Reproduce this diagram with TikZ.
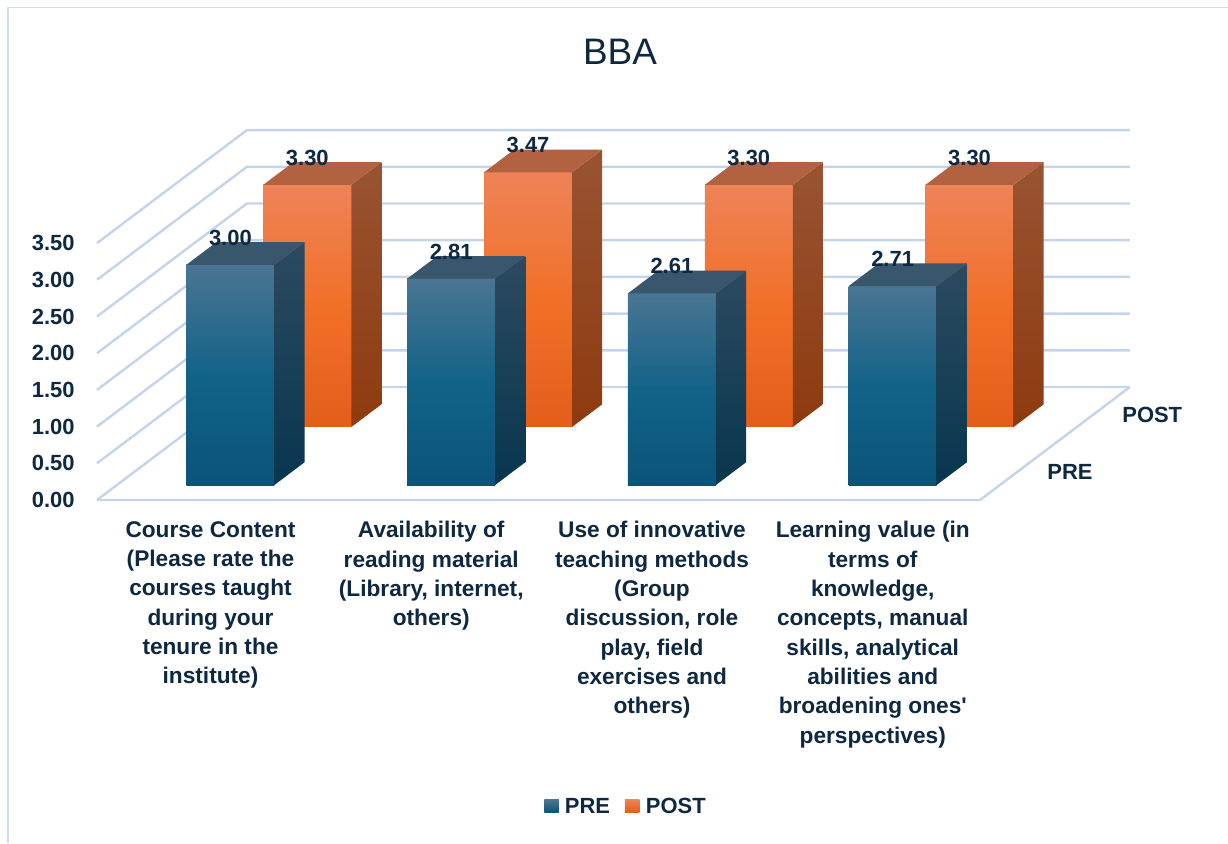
\documentclass[tikz,border=0pt]{standalone}
\usepackage{fontspec}
\setmainfont{Liberation Sans}
\usetikzlibrary{positioning}
\definecolor{textnavy}{HTML}{0E2841}
\definecolor{gridblue}{RGB}{196,213,235}
\definecolor{frameblue}{RGB}{206,222,240}
\definecolor{pretop}{RGB}{74,117,146}
\definecolor{premid}{RGB}{18,99,136}
\definecolor{prebot}{RGB}{10,84,120}
\definecolor{presidetop}{RGB}{44,74,96}
\definecolor{presidebot}{RGB}{7,54,78}
\definecolor{precap}{RGB}{56,86,108}
\definecolor{posttop}{RGB}{238,131,88}
\definecolor{postmid}{RGB}{241,112,40}
\definecolor{postbot}{RGB}{226,94,25}
\definecolor{postsidetop}{RGB}{152,84,50}
\definecolor{postsidebot}{RGB}{142,58,15}
\definecolor{postcap}{RGB}{178,98,64}

\tikzset{
  gridline/.style={gridblue,line width=1.4pt},
  vallabel/.style={font=\bfseries\fontsize{12.5}{15}\selectfont,text=textnavy,inner sep=0pt},
  catlabel/.style={font=\bfseries\fontsize{12.9}{16.7}\selectfont,text=textnavy,align=center,anchor=north,inner sep=0pt},
}

% centre, value, front depth, series, label name
\newcommand{\bbabar}[5]{%
  \pgfmathsetmacro{\bh}{#2*73.4}
  \pgfmathsetmacro{\bl}{#1-44}
  \pgfmathsetmacro{\br}{#1+44}
  \pgfmathsetmacro{\bz}{#3+22.7}
  \shade[top color=#4top,bottom color=#4bot,middle color=#4mid] (\bl,0,#3) rectangle (\br,\bh,#3);
  \shade[top color=#4sidetop,bottom color=#4sidebot] (\br,0,#3) -- (\br,0,\bz) -- (\br,\bh,\bz) -- (\br,\bh,#3) -- cycle;
  \fill[#4cap] (\bl,\bh,#3) -- (\br,\bh,#3) -- (\br,\bh,\bz) -- (\bl,\bh,\bz) -- cycle;
  \node[vallabel] (#5) at (#1,\bh+27,#3) {#2};
}

\begin{document}
\begin{tikzpicture}[x=0.02cm,y=0.02cm,z={(0.02654cm,0.02cm)}]
  %\draw[help lines] (0,0) grid[step=50] (1228,843);
  \useasboundingbox (0,0) rectangle (1228,843);
  \draw[frameblue,line width=1pt] (8.2,0) -- (8.2,835.5) -- (1228,835.5);
  \node[font=\fontsize{21}{25}\selectfont,text=textnavy] (title) at (620,791) {BBA};
  \begin{scope}[shift={(97,343)}]
    % walls and floor
    \foreach \k in {0,...,7}
      \draw[gridline] (0,\k*36.7,0) -- (0,\k*36.7,113) -- (883,\k*36.7,113);
    \draw[gridline] (0,0,0) -- (883,0,0) -- (883,0,113);
    \foreach \v [count=\k from 0] in {0.00,0.50,1.00,1.50,2.00,2.50,3.00,3.50}
      \node[vallabel,anchor=east] (tick\k) at (-22,\k*36.7) {\v};
    % bars, back row first
    \foreach \cx/\pv/\qv [count=\i] in {113.5/3.00/3.30,334.25/2.81/3.47,555/2.61/3.30,775.75/2.71/3.30} {
      \bbabar{\cx}{\qv}{73}{post}{post\i}
      \bbabar{\cx}{\pv}{15}{pre}{pre\i}
    }
    \node[catlabel] (cat1) at (113.5,-21) {Course Content\\(Please rate the\\courses taught\\during your\\tenure in the\\institute)};
    \node[catlabel] (cat2) at (334.25,-21) {Availability of\\reading material\\(Library, internet,\\others)};
    \node[catlabel] (cat3) at (555,-21) {Use of innovative\\teaching methods\\(Group\\discussion, role\\play, field\\exercises and\\others)};
    \node[catlabel] (cat4) at (775.75,-21) {Learning value (in\\terms of\\knowledge,\\concepts, manual\\skills, analytical\\abilities and\\broadening ones\textquotesingle\\perspectives)};
  \end{scope}
  \node[vallabel,anchor=west] (seriespost) at (1122,428) {POST};
  \node[vallabel,anchor=west] (seriespre) at (1047,371) {PRE};
  % legend
  \node[minimum width=0.29cm,minimum height=0.25cm,inner sep=0pt,top color=pretop,bottom color=prebot] (keypre) at (551.5,37) {};
  \node[vallabel,right=0.11cm of keypre] (legpre) {PRE};
  \node[minimum width=0.29cm,minimum height=0.25cm,inner sep=0pt,top color=posttop,bottom color=postbot] (keypost) at (632,37) {};
  \node[vallabel,right=0.12cm of keypost] (legpost) {POST};
\end{tikzpicture}
\end{document}
